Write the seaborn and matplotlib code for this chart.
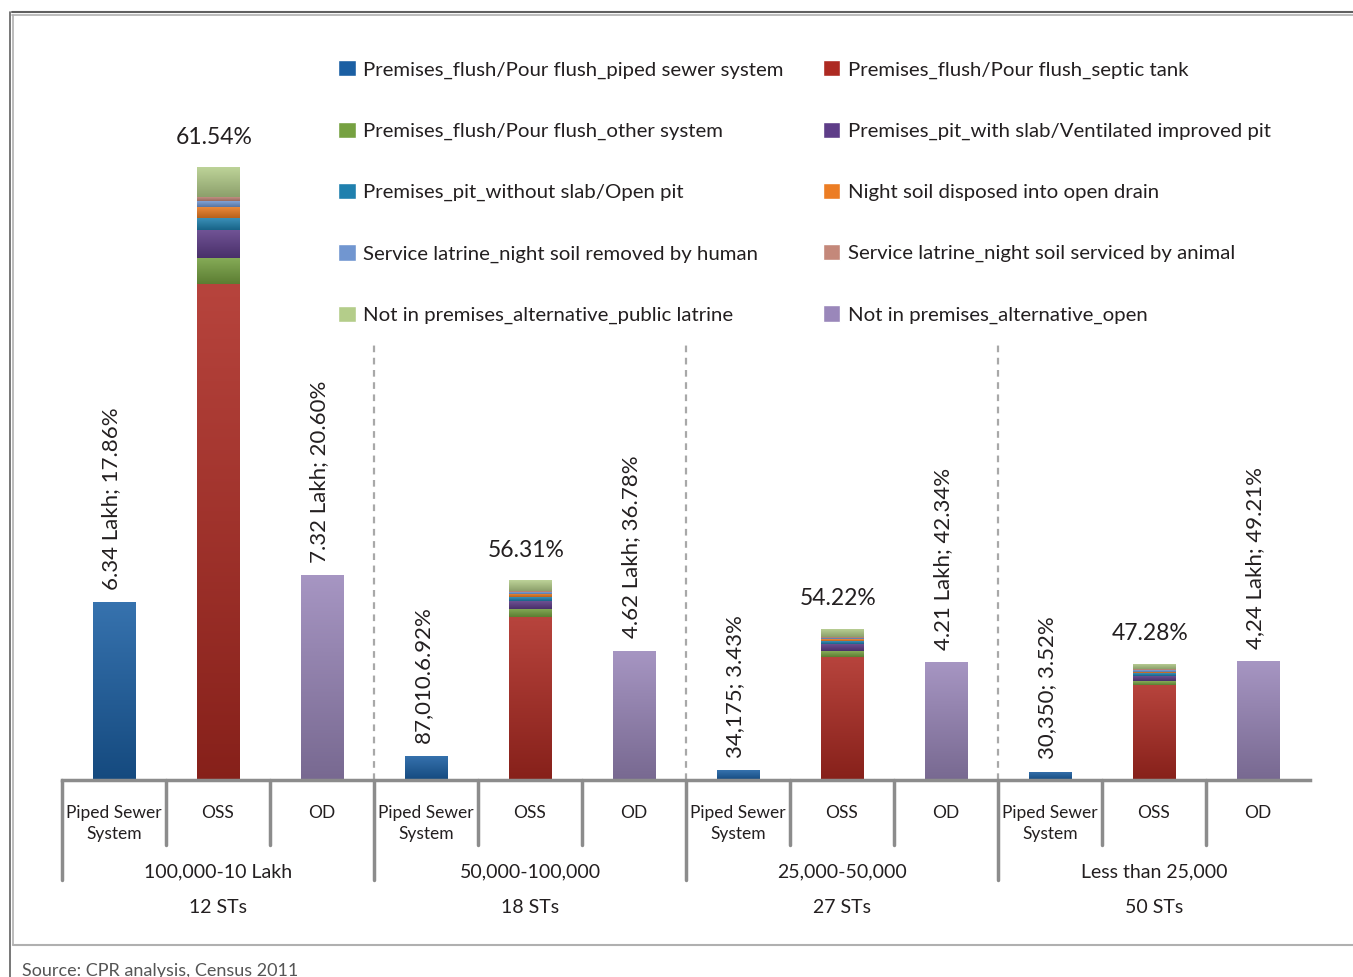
import numpy as np
import pandas as pd
import seaborn as sns
import matplotlib.pyplot as plt
from matplotlib.colors import LinearSegmentedColormap, to_rgb
from matplotlib.patches import Patch
from matplotlib.lines import Line2D

# town size classes
groups = ["100,000-10 Lakh", "50,000-100,000", "25,000-50,000", "Less than 25,000"]
group_sts = ["12 STs", "18 STs", "27 STs", "50 STs"]
bar_types = ["Piped Sewer\nSystem", "OSS", "OD"]

# households (lakh)
piped = [6.34, 0.87, 0.34, 0.30]
od = [7.32, 4.62, 4.21, 4.24]
septic = [17.70, 5.82, 4.39, 3.39]
other_system = [0.93, 0.29, 0.21, 0.14]
pit_slab = [1.02, 0.30, 0.27, 0.18]
pit_open = [0.42, 0.14, 0.09, 0.10]
open_drain = [0.40, 0.11, 0.07, 0.06]
removed_human = [0.21, 0.07, 0.05, 0.06]
serviced_animal = [0.15, 0.03, 0.02, 0.02]
public_latrine = [1.06, 0.38, 0.30, 0.21]

piped_labels = ["6.34 Lakh; 17.86%", "87,010.6.92%", "34,175; 3.43%", "30,350; 3.52%"]
oss_labels = ["61.54%", "56.31%", "54.22%", "47.28%"]
od_labels = ["7.32 Lakh; 20.60%", "4.62 Lakh; 36.78%", "4.21 Lakh; 42.34%", "4,24 Lakh; 49.21%"]

cat_names = [
    "Premises_flush/Pour flush_piped sewer system",
    "Premises_flush/Pour flush_septic tank",
    "Premises_flush/Pour flush_other system",
    "Premises_pit_with slab/Ventilated improved pit",
    "Premises_pit_without slab/Open pit",
    "Night soil disposed into open drain",
    "Service latrine_night soil removed by human",
    "Service latrine_night soil serviced by animal",
    "Not in premises_alternative_public latrine",
    "Not in premises_alternative_open",
]
cat_colors = ["#1b5fa3", "#ad2a22", "#76a141", "#5e3d88", "#1f80ae",
              "#ec7d24", "#7196d0", "#c4887a", "#b4cd8a", "#9a87ba"]
oss_parts = [septic, other_system, pit_slab, pit_open, open_drain,
             removed_human, serviced_animal, public_latrine]

rows = []
for g in range(len(groups)):
    rows.append((3 * g, cat_names[0], piped[g]))
    for name, vals in zip(cat_names[1:9], oss_parts):
        rows.append((3 * g + 1, name, vals[g]))
    rows.append((3 * g + 2, cat_names[9], od[g]))
df = pd.DataFrame(rows, columns=["pos", "cat", "value"])

sns.set_theme(style="white")
plt.rcParams['font.family'] = ['Lato', 'DejaVu Sans']
txt = "#231f20"

fig = plt.figure(figsize=(13.53, 9.77), dpi=100)
ax = fig.add_axes([62 / 1353, 1 - 780 / 977, 1248 / 1353, 630 / 977])

# stack order: septic at bottom ... public latrine on top
stack_order = cat_names[1:9] + [cat_names[0], cat_names[9]]
pal = dict(zip(cat_names, cat_colors))
sns.histplot(data=df, x="pos", weights="value", hue="cat", hue_order=stack_order[::-1],
             multiple="stack", discrete=True, shrink=0.41, palette=pal, alpha=1,
             linewidth=0, edgecolor="none", legend=False, ax=ax)

# vertical gradient on each bar segment
grad = np.linspace(0, 1, 64).reshape(-1, 1)
for p in list(ax.patches):
    h = p.get_height()
    if h <= 0:
        continue
    c = np.array(to_rgb(p.get_facecolor()))
    dark = np.clip(c * 0.78, 0, 1)
    light = np.clip(c + (1 - c) * 0.12, 0, 1)
    cm = LinearSegmentedColormap.from_list("g", [dark, light])
    x0, y0, w = p.get_x(), p.get_y(), p.get_width()
    im = ax.imshow(grad, extent=[x0, x0 + w, y0, y0 + h], origin="lower",
                   aspect="auto", cmap=cm, zorder=p.get_zorder(), interpolation="bilinear")
    im.set_clip_path(p)

ax.set_xlim(-0.5, 11.5)
ax.set_ylim(0, 22.5)
ax.set_xticks([])
ax.set_yticks([])
ax.set_xlabel("")
ax.set_ylabel("")
for s in ["top", "right", "left"]:
    ax.spines[s].set_visible(False)
ax.spines["bottom"].set_color("#8c8c8c")
ax.spines["bottom"].set_linewidth(2.5)

trans = ax.get_xaxis_transform()
grey = "#8c8c8c"
for g in range(len(groups)):
    b = 3 * g
    oss_total = sum(v[g] for v in oss_parts)
    ax.annotate(piped_labels[g], (b, piped[g]), xytext=(-2, 9), textcoords="offset points",
                rotation=90, ha="center", va="bottom", fontsize=16, color=txt)
    ax.annotate(oss_labels[g], (b + 1, oss_total), xytext=(-3, 14), textcoords="offset points",
                ha="center", va="bottom", fontsize=16.5, color=txt)
    ax.annotate(od_labels[g], (b + 2, od[g]), xytext=(-2, 9), textcoords="offset points",
                rotation=90, ha="center", va="bottom", fontsize=16, color=txt)
    for k, lab in enumerate(bar_types):
        ax.text(b + k, -0.039, lab, transform=trans, ha="center", va="top",
                fontsize=12.5, color=txt, linespacing=1.45)
    ax.text(b + 1, -0.146, groups[g], transform=trans, ha="center", va="center",
            fontsize=14, color=txt)
    ax.text(b + 1, -0.202, group_sts[g], transform=trans, ha="center", va="center",
            fontsize=14, color=txt)
    # group boundary and inner ticks
    ax.plot([b - 0.5, b - 0.5], [0, -0.159], transform=trans, clip_on=False, color=grey, lw=2.5)
    for t in (b + 0.5, b + 1.5):
        ax.plot([t, t], [0, -0.103], transform=trans, clip_on=False, color=grey, lw=2.5)
    if g > 0:
        ax.plot([b - 0.5, b - 0.5], [0, 0.69], transform=trans, color="#a8a8a8",
                lw=1.6, ls=(0, (3, 2.5)))

handles = [Patch(facecolor=cat_colors[i], label=cat_names[i]) for i in [0, 2, 4, 6, 8, 1, 3, 5, 7, 9]]
fig.legend(handles=handles, ncol=2, loc="upper left", bbox_to_anchor=(328 / 1353, 1 - 50 / 977),
           frameon=False, fontsize=14.7, handlelength=0.85, handleheight=0.85,
           handletextpad=0.35, labelspacing=2.1, columnspacing=1.95, borderpad=0,
           labelcolor=txt)

# page frame
fig.add_artist(Line2D([12 / 1353, 1], [1 - 12 / 977] * 2, transform=fig.transFigure, color="#606060", lw=1.5))
fig.add_artist(Line2D([12 / 1353, 1], [1 - 15 / 977] * 2, transform=fig.transFigure, color="#b0b0b0", lw=1.2))
fig.add_artist(Line2D([10 / 1353] * 2, [0, 1 - 12 / 977], transform=fig.transFigure, color="#606060", lw=1.2))
fig.add_artist(Line2D([13 / 1353] * 2, [1 - 945 / 977, 1 - 15 / 977], transform=fig.transFigure, color="#b0b0b0", lw=1.2))
fig.add_artist(Line2D([13 / 1353, 1], [1 - 945 / 977] * 2, transform=fig.transFigure, color="#b0b0b0", lw=1.5))
fig.text(22 / 1353, 1 - 963 / 977, "Source: CPR analysis, Census 2011", ha="left", va="top",
         fontsize=13, color="#555555")

fig.savefig("out.png", dpi=100)
